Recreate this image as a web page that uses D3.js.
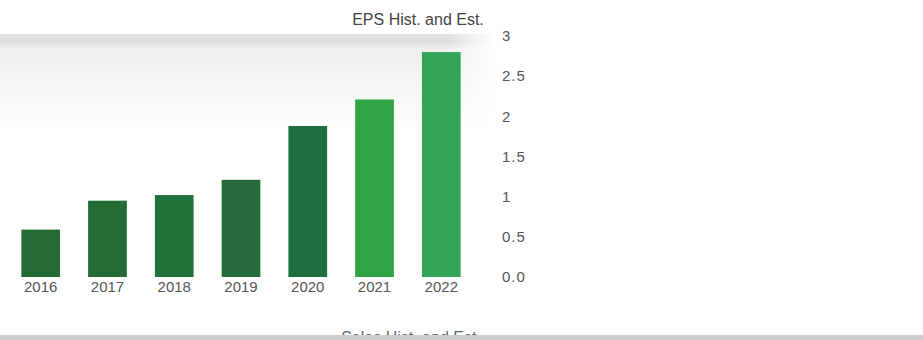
<!DOCTYPE html>
<html><head><meta charset="utf-8">
<script src="https://cdn.jsdelivr.net/npm/d3@7"></script>
<style>body{margin:0;background:#fff;overflow:hidden}svg{display:block;font-family:"Liberation Sans",Arial,sans-serif}</style>
</head><body>
<script>
const years = ["2016","2017","2018","2019","2020","2021","2022"];
const eps = [0.59, 0.95, 1.02, 1.21, 1.88, 2.21, 2.8];
const barColors = ["#256b37","#236c36","#22703a","#276b3a","#1f6e3e","#2fa445","#33a556"];
const tickValues = [0, 0.5, 1, 1.5, 2, 2.5, 3];
const tickLabels = ["0.0","0.5","1","1.5","2","2.5","3"];
const title = "EPS Hist. and Est.";
const nextTitle = "Sales Hist. and Est.";

const W = 923, H = 340;
const svg = d3.select("body").append("svg").attr("width", W).attr("height", H);
const defs = svg.append("defs");
const g1 = defs.append("linearGradient").attr("id","band").attr("x1",0).attr("y1",0).attr("x2",0).attr("y2",1);
g1.append("stop").attr("offset","0").attr("stop-color","#e2e2e2");
g1.append("stop").attr("offset","0.08").attr("stop-color","#dcdcdc");
g1.append("stop").attr("offset","0.15").attr("stop-color","#eeeeee");
g1.append("stop").attr("offset","1").attr("stop-color","#ffffff");
const g2 = defs.append("linearGradient").attr("id","bandx").attr("x1",0).attr("y1",0).attr("x2",1).attr("y2",0);
g2.append("stop").attr("offset","0").attr("stop-color","#fff").attr("stop-opacity",0);
g2.append("stop").attr("offset","0.9").attr("stop-color","#fff").attr("stop-opacity",0);
g2.append("stop").attr("offset","1").attr("stop-color","#fff").attr("stop-opacity",1);
svg.append("rect").attr("x",0).attr("y",34).attr("width",495).attr("height",95).attr("fill","url(#band)");
svg.append("rect").attr("x",0).attr("y",34).attr("width",495).attr("height",95).attr("fill","url(#bandx)");

const x = d3.scaleBand().domain(years).range([8, 474]).paddingInner(0.42).paddingOuter(0.2);
const y = d3.scaleLinear().domain([0, 3]).range([277, 36]);

svg.append("g").selectAll("rect").data(years).join("rect")
  .attr("x", d => x(d)).attr("width", x.bandwidth())
  .attr("y", (d,i) => y(eps[i])).attr("height", (d,i) => y(0) - y(eps[i]))
  .attr("fill", (d,i) => barColors[i]);

const xAxis = svg.append("g").attr("transform", `translate(0,${y(0)})`)
  .call(d3.axisBottom(x).tickSize(0).tickPadding(4));
xAxis.select(".domain").remove();
xAxis.selectAll("text").attr("font-size", 15).attr("fill", "#555").attr("font-family","Liberation Sans, Arial, sans-serif");

const yAxis = svg.append("g").attr("transform", `translate(502,0)`)
  .call(d3.axisRight(y).tickValues(tickValues).tickFormat((d,i) => tickLabels[i]).tickSize(0).tickPadding(0));
yAxis.select(".domain").remove();
yAxis.selectAll("text").attr("font-size", 15).attr("letter-spacing", 1).attr("fill", "#555").attr("font-family","Liberation Sans, Arial, sans-serif");

svg.append("text").attr("x", 418).attr("y", 25).attr("text-anchor","middle")
  .attr("font-size", 16).attr("fill","#444").text(title);

svg.append("text").attr("x", 411).attr("y", 343).attr("text-anchor","middle")
  .attr("font-size", 16).attr("fill","#666").text(nextTitle);
svg.append("rect").attr("x",0).attr("y",335).attr("width",W).attr("height",5).attr("fill","#cccccc");
</script>
</body></html>
